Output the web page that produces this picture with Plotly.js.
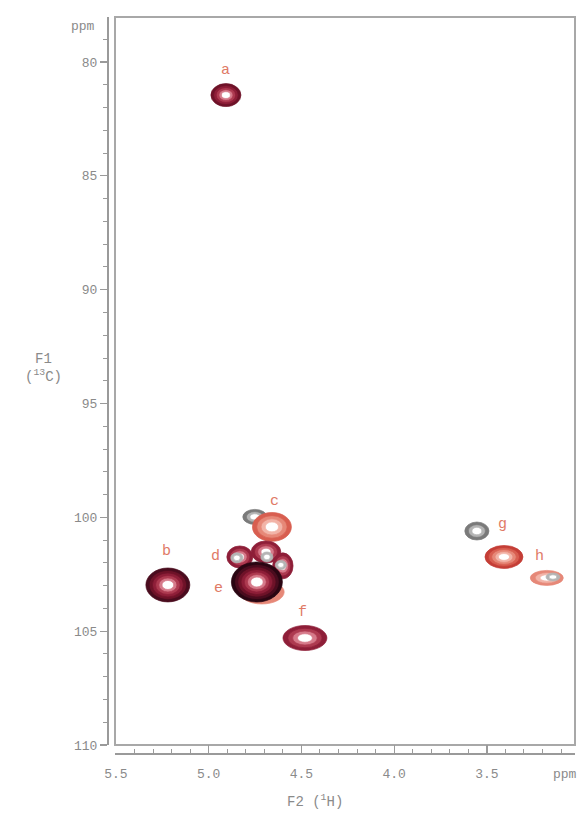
<!DOCTYPE html>
<html>
<head>
<meta charset="utf-8">
<script src="https://cdn.plot.ly/plotly-3.0.1.min.js"></script>
<style>
  html, body { margin: 0; padding: 0; background: #ffffff; }
  #chart { width: 577px; height: 816px; }
</style>
</head>
<body>
<div id="chart"></div>
<script>
// HSQC cross peaks: F2 (1H) and F1 (13C) chemical shifts in ppm,
// peak extent along each dimension (ppm), number of contour levels,
// and which overlaid spectrum the peak belongs to.
const peakName     = ['a', 'b', 'c', 'c', 'd', 'd', 'd', 'e', 'e', 'd', 'd', 'd', 'f', 'g', 'g', 'h', 'h'];
const peakF2       = [4.907, 5.220, 4.751, 4.659, 4.832, 4.691, 4.600, 4.713, 4.740, 4.848, 4.686, 4.611, 4.481, 3.554, 3.408, 3.177, 3.144];
const peakF1       = [81.45, 102.97, 99.98, 100.42, 101.74, 101.52, 102.13, 103.28, 102.84, 101.78, 101.74, 102.09, 105.30, 100.60, 101.74, 102.66, 102.62];
const peakSpanF2   = [0.162, 0.237, 0.130, 0.210, 0.140, 0.160, 0.110, 0.240, 0.275, 0.065, 0.065, 0.060, 0.237, 0.130, 0.205, 0.178, 0.075];
const peakSpanF1   = [1.01, 1.49, 0.66, 1.27, 0.97, 0.97, 1.14, 1.05, 1.76, 0.44, 0.44, 0.40, 1.10, 0.79, 1.01, 0.66, 0.35];
const peakLevels   = [5, 6, 3, 4, 4, 4, 4, 3, 7, 2, 2, 2, 4, 3, 5, 3, 2];
const peakSpectrum = ['A', 'A', 'C', 'B', 'A', 'A', 'A', 'B', 'A', 'C', 'C', 'C', 'A', 'C', 'B', 'B', 'C'];

// Assignment letters and where they sit (ppm)
const labelText = ['a', 'b', 'c', 'd', 'e', 'f', 'g', 'h'];
const labelF2   = [4.907, 5.225, 4.643, 4.961, 4.945, 4.492, 3.414, 3.214];
const labelF1   = [80.35, 101.52, 99.32, 101.74, 103.14, 104.20, 100.33, 101.70];

// Axis ticks
const f2TickStart = 5.5, f2TickStep = 0.5, f2MinorStep = 0.1;
const f1TickStart = 80, f1TickStep = 5, f1MinorStep = 1;

// Contour colour ramps, outermost (weakest) to innermost
const palettes = {
  A: ['#2a0612', '#4a0c1e', '#6e1228', '#8e1e38', '#ad3a50', '#d67a8a', '#ffffff'],
  B: ['#a82828', '#c43e36', '#d85e50', '#e68878', '#f2b4a8', '#ffffff'],
  C: ['#4a4a4a', '#7a7a7a', '#b4b4b4', '#ffffff']
};

const shapes = [];
for (let i = 0; i < peakF2.length; i++) {
  const pal = palettes[peakSpectrum[i]];
  const n = peakLevels[i];
  const cols = pal.slice(pal.length - n);
  for (let k = 0; k < n; k++) {
    const s = 1 - (k / n) * 0.88;
    const hx = peakSpanF2[i] / 2 * s;
    const hy = peakSpanF1[i] / 2 * s;
    shapes.push({
      type: 'circle', xref: 'x', yref: 'y',
      x0: peakF2[i] - hx, x1: peakF2[i] + hx,
      y0: peakF1[i] - hy, y1: peakF1[i] + hy,
      fillcolor: cols[k],
      line: { color: cols[Math.max(0, k - 1)], width: 0.7 }
    });
  }
}

// Plot frame
const dom = { x0: 115 / 577, x1: 575 / 577, y0: 1 - 745 / 816, y1: 1 - 17 / 816 };
shapes.push({
  type: 'rect', xref: 'paper', yref: 'paper',
  x0: dom.x0, x1: dom.x1, y0: dom.y0, y1: dom.y1,
  line: { color: '#a8a8a8', width: 2 }, fillcolor: 'rgba(0,0,0,0)', layer: 'below'
});

const fontFamily = 'Liberation Mono, DejaVu Sans Mono, monospace';
const textFont = { family: fontFamily, size: 13, color: '#8a8a8a' };

const annotations = labelText.map((t, i) => ({
  x: labelF2[i], y: labelF1[i], xref: 'x', yref: 'y',
  text: t, showarrow: false,
  font: { family: fontFamily, size: 15, color: '#e07a66' }
}));

annotations.push(
  { xref: 'paper', yref: 'paper', x: 97 / 577, y: 1 - 27 / 816, xanchor: 'right', yanchor: 'middle',
    text: 'ppm', showarrow: false, font: textFont },
  { xref: 'paper', yref: 'paper', x: 565 / 577, y: 1 - 774 / 816, xanchor: 'center', yanchor: 'middle',
    text: 'ppm', showarrow: false, font: textFont },
  { xref: 'paper', yref: 'paper', x: 315 / 577, y: 1 - 801 / 816, xanchor: 'center', yanchor: 'middle',
    text: 'F2 (<sup>1</sup>H)', showarrow: false, font: { family: fontFamily, size: 14, color: '#8a8a8a' } },
  { xref: 'paper', yref: 'paper', x: 43 / 577, y: 1 - 368 / 816, xanchor: 'center', yanchor: 'middle',
    text: 'F1<br>(<sup>13</sup>C)', showarrow: false, font: { family: fontFamily, size: 14, color: '#8a8a8a' } }
);

const layout = {
  width: 577, height: 816,
  margin: { l: 0, r: 0, t: 0, b: 0 },
  paper_bgcolor: '#ffffff', plot_bgcolor: '#ffffff',
  showlegend: false,
  xaxis: {
    domain: [dom.x0, dom.x1], anchor: 'free', position: 1 - 753 / 816,
    range: [5.505, 3.025], showgrid: false, zeroline: false,
    showline: true, linecolor: '#9a9a9a', linewidth: 1.5,
    tickmode: 'linear', tick0: f2TickStart, dtick: f2TickStep, tickformat: '.1f',
    ticks: 'inside', ticklen: 8, tickwidth: 1.2, tickcolor: '#9a9a9a',
    ticklabelstandoff: 8,
    minor: { tickmode: 'linear', tick0: f2TickStart, dtick: f2MinorStep, ticks: 'inside', ticklen: 4, tickwidth: 1, tickcolor: '#9a9a9a', showgrid: false },
    tickfont: textFont
  },
  yaxis: {
    domain: [dom.y0, dom.y1], anchor: 'free', position: 107 / 577,
    range: [110, 78.02], showgrid: false, zeroline: false,
    showline: true, linecolor: '#9a9a9a', linewidth: 1.5,
    tickmode: 'linear', tick0: f1TickStart, dtick: f1TickStep,
    ticks: 'outside', ticklen: 7, tickwidth: 1.2, tickcolor: '#9a9a9a',
    minor: { tickmode: 'linear', tick0: f1TickStart, dtick: f1MinorStep, ticks: 'outside', ticklen: 4, tickwidth: 1, tickcolor: '#9a9a9a', showgrid: false },
    tickfont: textFont
  },
  shapes: shapes,
  annotations: annotations
};

// An empty trace anchors the axes
const traces = [{ x: [], y: [], type: 'scatter', mode: 'markers', hoverinfo: 'skip' }];

Plotly.newPlot('chart', traces, layout, { staticPlot: true, displayModeBar: false });
</script>
</body>
</html>
